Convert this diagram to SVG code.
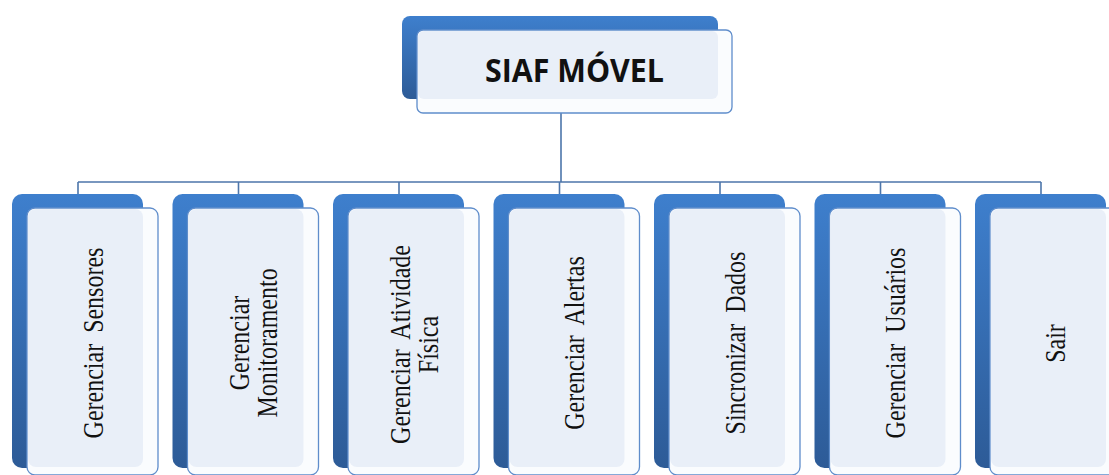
<svg xmlns="http://www.w3.org/2000/svg" width="1109" height="475" viewBox="0 0 1109 475">
<defs>
<linearGradient id="blue" x1="0" y1="0" x2="0" y2="1">
<stop offset="0" stop-color="#3e7fcd"/>
<stop offset="1" stop-color="#2d5b97"/>
</linearGradient>
<style>
.back{fill:url(#blue);}
.front{fill:#fafcfe;stroke:#5f8dcb;stroke-width:1.3;}
.gloss{fill:#e9eff8;}
.conn{fill:none;stroke:#4d76ab;stroke-width:1.6;}
.lbl{font-family:"Liberation Serif","Times New Roman",serif;font-size:24px;fill:#111;text-anchor:middle;word-spacing:5px;}
.title{font-family:"Open Sans","Liberation Sans",sans-serif;font-weight:bold;font-size:32px;fill:#111;text-anchor:middle;}
</style>
</defs>
<rect width="1109" height="475" fill="#ffffff"/>
<g id="connectors">
<path class="conn" d="M561,113 V182 M78,182 H1041 M78,182 V194 M238.5,182 V194 M399,182 V194 M559.5,182 V194 M720,182 V194 M880.5,182 V194 M1041,182 V194"/>
</g>
<g id="root">
<rect class="back" x="402" y="16" width="316" height="83" rx="8"/>
<rect class="front" x="417" y="30" width="315" height="83" rx="6"/>
<rect class="gloss" x="418" y="31" width="300" height="68" rx="6"/>
<text class="title" x="574.5" y="81.5" textLength="179" lengthAdjust="spacingAndGlyphs">SIAF MÓVEL</text>
</g>
<g id="n1">
<rect class="back" x="12" y="194" width="131" height="274" rx="10"/>
<rect class="front" x="27" y="208" width="131" height="267" rx="8"/>
<rect class="gloss" x="28" y="209" width="115" height="258" rx="8"/>
<g transform="translate(92.5,343) scale(1.25,1) rotate(-90)"><text class="lbl" x="0" y="8">Gerenciar Sensores</text></g>
</g>
<g id="n2">
<rect class="back" x="172.5" y="194" width="131" height="274" rx="10"/>
<rect class="front" x="187.5" y="208" width="131" height="267" rx="8"/>
<rect class="gloss" x="188.5" y="209" width="115" height="258" rx="8"/>
<g transform="translate(253,343) scale(1.25,1) rotate(-90)"><text class="lbl" x="0" y="-3">Gerenciar</text><text class="lbl" x="0" y="19.5">Monitoramento</text></g>
</g>
<g id="n3">
<rect class="back" x="333" y="194" width="131" height="274" rx="10"/>
<rect class="front" x="348" y="208" width="131" height="267" rx="8"/>
<rect class="gloss" x="349" y="209" width="115" height="258" rx="8"/>
<g transform="translate(413.5,344.5) scale(1.25,1) rotate(-90)"><text class="lbl" x="0" y="-3">Gerenciar Atividade</text><text class="lbl" x="0" y="19.5">Física</text></g>
</g>
<g id="n4">
<rect class="back" x="493.5" y="194" width="131" height="274" rx="10"/>
<rect class="front" x="508.5" y="208" width="131" height="267" rx="8"/>
<rect class="gloss" x="509.5" y="209" width="115" height="258" rx="8"/>
<g transform="translate(574,343) scale(1.25,1) rotate(-90)"><text class="lbl" x="0" y="8">Gerenciar Alertas</text></g>
</g>
<g id="n5">
<rect class="back" x="654" y="194" width="131" height="274" rx="10"/>
<rect class="front" x="669" y="208" width="131" height="267" rx="8"/>
<rect class="gloss" x="670" y="209" width="115" height="258" rx="8"/>
<g transform="translate(734.5,343) scale(1.25,1) rotate(-90)"><text class="lbl" x="0" y="8">Sincronizar Dados</text></g>
</g>
<g id="n6">
<rect class="back" x="814.5" y="194" width="131" height="274" rx="10"/>
<rect class="front" x="829.5" y="208" width="131" height="267" rx="8"/>
<rect class="gloss" x="830.5" y="209" width="115" height="258" rx="8"/>
<g transform="translate(895,343) scale(1.25,1) rotate(-90)"><text class="lbl" x="0" y="8">Gerenciar Usuários</text></g>
</g>
<g id="n7">
<rect class="back" x="975" y="194" width="131" height="274" rx="10"/>
<rect class="front" x="990" y="208" width="131" height="267" rx="8"/>
<rect class="gloss" x="991" y="209" width="115" height="258" rx="8"/>
<g transform="translate(1055,343.5) scale(1.25,1) rotate(-90)"><text class="lbl" x="0" y="8">Sair</text></g>
</g>
</svg>
